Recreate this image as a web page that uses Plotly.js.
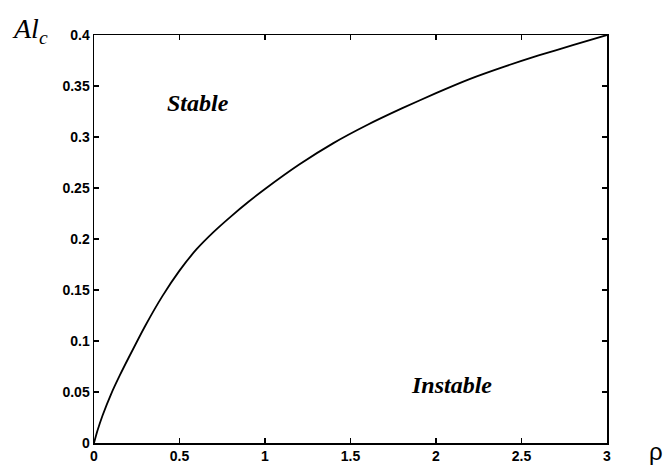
<!DOCTYPE html>
<html>
<head>
<meta charset="utf-8">
<script src="https://cdn.plot.ly/plotly-3.0.1.min.js"></script>
<style>html,body{margin:0;padding:0;background:#fff;}#chart{width:663px;height:467px;}</style>
</head>
<body>
<div id="chart"></div>
<script>
// Stability boundary Al_c versus rho
var rho = [0, 0.02, 0.05, 0.1, 0.15, 0.21, 0.3, 0.4, 0.5, 0.6, 0.7, 0.8, 0.9, 1.0, 1.2, 1.4, 1.6, 1.8, 2.0, 2.2, 2.4, 2.6, 2.8, 3.0];
var alc = [0, 0.012, 0.027, 0.048, 0.066, 0.086, 0.115, 0.144, 0.169, 0.19, 0.207, 0.222, 0.236, 0.249, 0.273, 0.294, 0.312, 0.328, 0.343, 0.357, 0.369, 0.38, 0.39, 0.4];
var xTicks = [0, 0.5, 1, 1.5, 2, 2.5, 3];
var xTickText = ['0', '0.5', '1', '1.5', '2', '2.5', '3'];
var yTicks = [0, 0.05, 0.1, 0.15, 0.2, 0.25, 0.3, 0.35, 0.4];
var yTickText = ['0', '0.05', '0.1', '0.15', '0.2', '0.25', '0.3', '0.35', '0.4'];
var regionLabels = ['Stable', 'Instable'];
var regionX = [0.61, 2.09];
var regionY = [0.333, 0.057];

var trace = {
  x: rho, y: alc, type: 'scatter', mode: 'lines',
  line: {color: '#000', width: 1.8, shape: 'spline', smoothing: 0.6},
  hoverinfo: 'skip', showlegend: false
};

var tickFont = {family: 'Liberation Sans, Arial, sans-serif', size: 14, color: '#000', weight: 'bold'};
var axisCommon = {
  showline: true, linecolor: '#000', linewidth: 1.5, mirror: 'ticks',
  ticks: 'inside', ticklen: 5, tickwidth: 1.2, tickcolor: '#000',
  showgrid: false, zeroline: false, tickfont: tickFont, fixedrange: true
};

var annotations = [];
for (var i = 0; i < regionLabels.length; i++) {
  annotations.push({
    x: regionX[i], y: regionY[i], xref: 'x', yref: 'y', showarrow: false,
    text: '<b><i>' + regionLabels[i] + '</i></b>',
    font: {family: 'Liberation Serif, Times New Roman, serif', size: 24, color: '#000'}
  });
}
annotations.push({
  xref: 'paper', yref: 'paper', x: -0.125, y: 1.012, xanchor: 'center', yanchor: 'middle',
  showarrow: false, text: '<i>Al</i><sub><i>c</i></sub>',
  font: {family: 'Liberation Serif, Times New Roman, serif', size: 28, color: '#000'}
});
annotations.push({
  xref: 'paper', yref: 'paper', x: 1.095, y: -0.02, xanchor: 'center', yanchor: 'middle',
  showarrow: false, text: 'ρ',
  font: {family: 'Liberation Sans, Arial, sans-serif', size: 24, color: '#000'}
});

var layout = {
  width: 663, height: 467,
  margin: {l: 94, r: 56, t: 35, b: 24, pad: 0},
  paper_bgcolor: '#fff', plot_bgcolor: '#fff',
  xaxis: Object.assign({}, axisCommon, {range: [0, 3], tickvals: xTicks, ticktext: xTickText}),
  yaxis: Object.assign({}, axisCommon, {range: [0, 0.4], tickvals: yTicks, ticktext: yTickText}),
  annotations: annotations,
  showlegend: false
};

Plotly.newPlot('chart', [trace], layout, {displayModeBar: false, staticPlot: true});
</script>
</body>
</html>
